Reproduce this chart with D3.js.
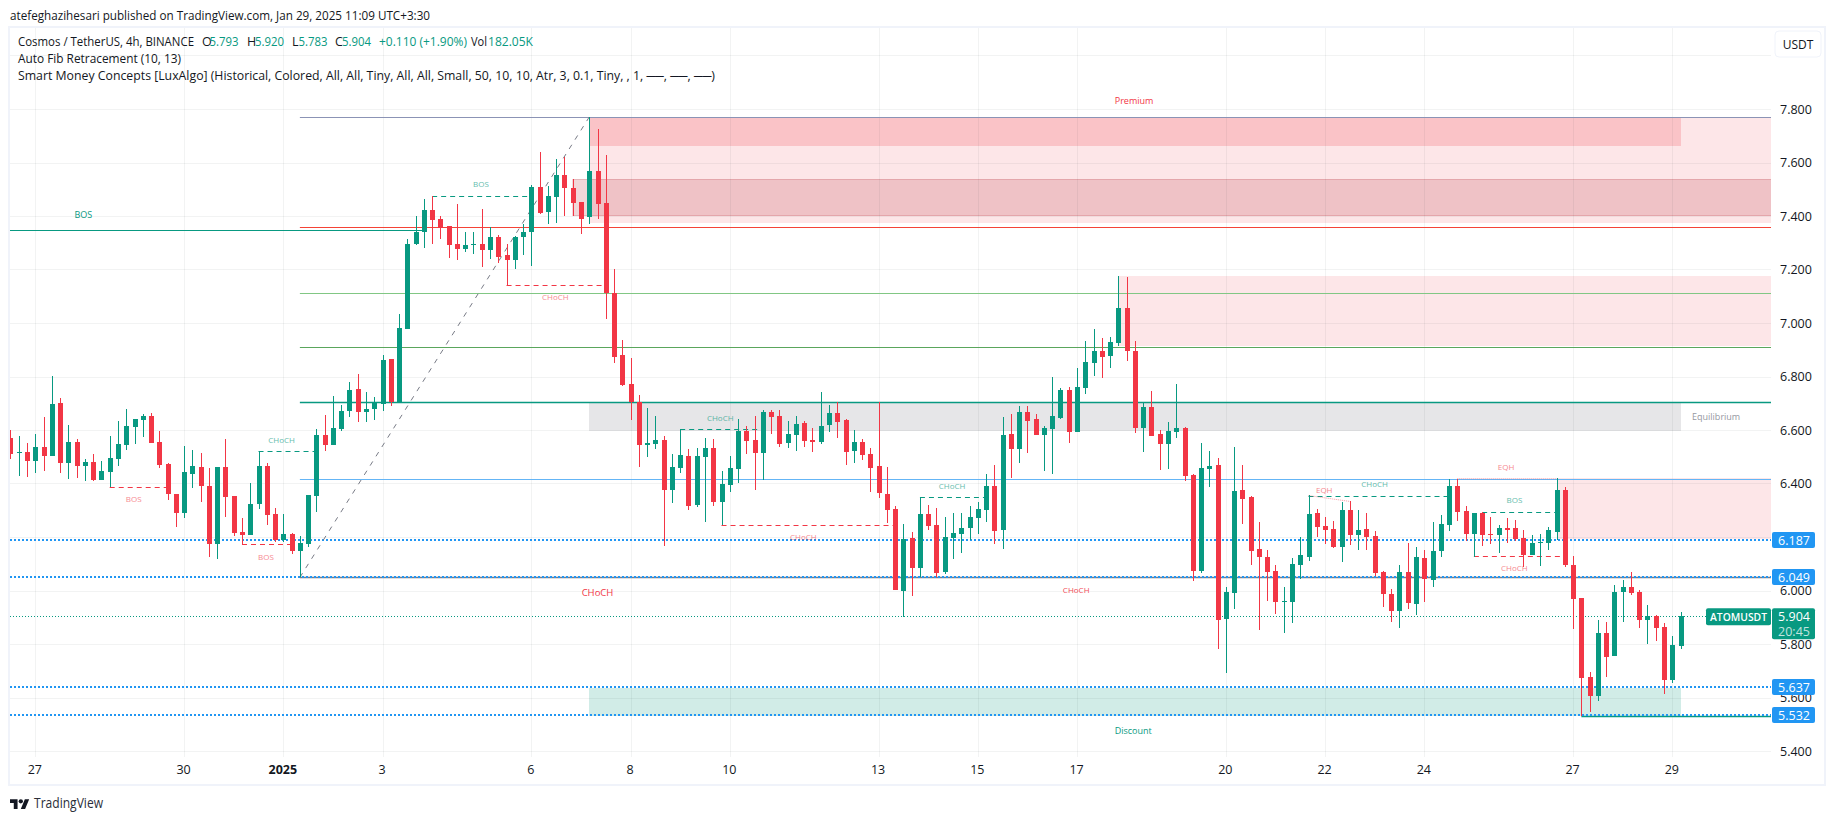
<!DOCTYPE html>
<html><head><meta charset="utf-8">
<style>html,body{margin:0;padding:0;background:#fff;overflow:hidden}svg{display:block}text{font-family:"Open Sans","Noto Sans",sans-serif}</style>
<script src="https://d3js.org/d3.v7.min.js"></script></head><body>
<script>
const opens=[6.570,6.514,6.517,6.484,6.536,6.502,6.701,6.476,6.555,6.465,
6.480,6.413,6.443,6.491,6.544,6.611,6.637,6.652,6.555,6.472,
6.360,6.289,6.435,6.461,6.390,6.173,6.461,6.353,6.218,6.207,
6.323,6.465,6.286,6.188,6.211,6.147,6.173,6.353,6.581,6.544,
6.603,6.671,6.753,6.667,6.678,6.697,6.865,6.705,6.978,7.296,
7.341,7.423,7.389,7.361,7.296,7.277,7.292,7.296,7.273,7.322,
7.255,7.236,7.322,7.341,7.509,7.415,7.471,7.554,7.505,7.453,
7.397,7.569,7.449,7.113,6.881,6.772,6.705,6.544,6.548,6.563,
6.376,6.458,6.503,6.320,6.499,6.533,6.331,6.395,6.454,6.596,
6.563,6.514,6.667,6.653,6.552,6.582,6.626,6.563,6.555,6.619,
6.664,6.638,6.522,6.555,6.510,6.466,6.361,6.305,5.998,6.197,
6.084,6.286,6.245,6.069,6.196,6.211,6.234,6.271,6.301,6.390,
6.226,6.585,6.529,6.667,6.641,6.581,6.604,6.645,6.749,6.593,
6.757,6.851,6.895,6.877,6.925,7.056,6.895,6.608,6.686,6.585,
6.548,6.593,6.608,6.432,6.073,6.454,6.469,5.894,5.991,6.376,
6.350,6.155,6.125,6.073,5.957,5.957,6.095,6.125,6.290,6.241,
6.230,6.163,6.301,6.208,6.230,6.204,6.069,5.987,5.923,6.069,
5.950,6.122,6.039,6.148,6.245,6.391,6.297,6.211,6.290,6.211,
6.208,6.234,6.234,6.196,6.133,6.178,6.178,6.219,6.376,6.096,
5.972,5.677,5.606,5.841,5.755,5.995,6.013,5.995,5.890,5.905,
5.864,5.665,5.793];
const closes=[6.510,6.517,6.484,6.536,6.502,6.697,6.476,6.555,6.465,6.480,
6.413,6.446,6.495,6.547,6.615,6.641,6.652,6.551,6.469,6.360,
6.289,6.443,6.465,6.390,6.173,6.461,6.349,6.215,6.207,6.323,
6.465,6.282,6.188,6.211,6.147,6.177,6.357,6.581,6.544,6.607,
6.671,6.749,6.667,6.678,6.701,6.861,6.704,6.982,7.296,7.341,
7.423,7.385,7.356,7.292,7.277,7.292,7.296,7.273,7.322,7.247,
7.236,7.322,7.341,7.509,7.412,7.475,7.554,7.505,7.449,7.389,
7.569,7.445,7.113,6.873,6.768,6.705,6.544,6.552,6.563,6.376,
6.462,6.507,6.316,6.503,6.533,6.331,6.398,6.458,6.596,6.559,
6.514,6.667,6.649,6.548,6.585,6.623,6.559,6.555,6.615,6.664,
6.630,6.518,6.555,6.507,6.458,6.365,6.301,6.002,6.193,6.084,
6.286,6.241,6.066,6.200,6.215,6.234,6.275,6.305,6.390,6.222,
6.581,6.529,6.667,6.634,6.581,6.608,6.652,6.749,6.593,6.760,
6.854,6.895,6.873,6.929,7.056,6.895,6.608,6.686,6.578,6.548,
6.596,6.608,6.428,6.073,6.458,6.465,5.890,5.994,6.372,6.342,
6.148,6.125,6.069,5.957,5.961,6.099,6.133,6.286,6.237,6.226,
6.163,6.301,6.208,6.226,6.200,6.065,5.987,5.923,6.069,5.953,
6.125,6.043,6.148,6.249,6.391,6.293,6.211,6.290,6.208,6.208,
6.234,6.226,6.193,6.133,6.178,6.181,6.226,6.376,6.096,5.969,
5.673,5.606,5.841,5.752,5.995,6.013,5.991,5.890,5.905,5.860,
5.665,5.796,5.904];
const highs=[6.600,6.577,6.551,6.585,6.648,6.801,6.719,6.618,6.566,6.491,
6.510,6.484,6.577,6.633,6.678,6.641,6.659,6.663,6.596,6.476,
6.360,6.540,6.525,6.514,6.458,6.461,6.566,6.353,6.271,6.401,
6.521,6.476,6.308,6.286,6.215,6.203,6.357,6.603,6.656,6.727,
6.693,6.779,6.809,6.742,6.723,6.880,6.865,7.034,7.314,7.400,
7.464,7.475,7.400,7.363,7.445,7.341,7.341,7.427,7.359,7.329,
7.296,7.326,7.370,7.516,7.640,7.513,7.613,7.621,7.539,7.453,
7.770,7.726,7.628,7.202,6.937,6.869,6.731,6.682,6.653,6.578,
6.510,6.604,6.529,6.533,6.570,6.567,6.447,6.503,6.641,6.615,
6.653,6.675,6.675,6.675,6.634,6.653,6.634,6.608,6.742,6.694,
6.705,6.641,6.600,6.567,6.533,6.705,6.462,6.316,6.249,6.219,
6.349,6.320,6.309,6.275,6.290,6.290,6.316,6.331,6.435,6.469,
6.648,6.660,6.690,6.690,6.660,6.615,6.798,6.757,6.760,6.832,
6.933,6.978,6.944,6.948,7.176,7.172,6.933,6.701,6.746,6.600,
6.630,6.772,6.611,6.435,6.551,6.522,6.495,6.013,6.536,6.469,
6.353,6.256,6.151,6.095,6.013,6.122,6.200,6.357,6.305,6.275,
6.260,6.331,6.335,6.301,6.290,6.222,6.073,6.006,6.095,6.178,
6.163,6.151,6.256,6.282,6.417,6.417,6.316,6.290,6.293,6.275,
6.245,6.271,6.264,6.226,6.208,6.211,6.237,6.421,6.387,6.129,
5.972,5.696,5.890,5.882,6.021,6.040,6.069,6.002,5.946,5.908,
5.879,5.830,5.920];
const lows=[6.491,6.428,6.424,6.439,6.446,6.502,6.439,6.416,6.420,6.409,
6.409,6.413,6.387,6.465,6.525,6.547,6.573,6.551,6.458,6.338,
6.237,6.271,6.383,6.330,6.125,6.117,6.274,6.203,6.173,6.207,
6.304,6.244,6.181,6.181,6.136,6.050,6.162,6.293,6.521,6.544,
6.596,6.648,6.629,6.629,6.637,6.671,6.689,6.705,6.978,7.292,
7.281,7.296,7.314,7.243,7.236,7.266,7.258,7.210,7.240,7.225,
7.142,7.202,7.255,7.213,7.408,7.370,7.374,7.400,7.400,7.333,
7.370,7.389,7.015,6.851,6.765,6.638,6.462,6.499,6.529,6.167,
6.327,6.439,6.301,6.312,6.256,6.316,6.245,6.368,6.402,6.510,
6.376,6.413,6.585,6.537,6.533,6.522,6.537,6.518,6.548,6.593,
6.570,6.469,6.477,6.488,6.368,6.346,6.253,6.002,5.902,5.980,
6.051,6.226,6.051,6.062,6.118,6.140,6.189,6.211,6.256,6.174,
6.155,6.421,6.476,6.514,6.581,6.447,6.435,6.641,6.552,6.593,
6.735,6.802,6.794,6.832,6.914,6.858,6.589,6.518,6.578,6.451,
6.454,6.570,6.409,6.035,6.065,6.387,5.781,5.692,5.931,6.249,
6.095,5.852,5.961,5.912,5.841,5.879,6.043,6.110,6.200,6.174,
6.159,6.107,6.170,6.151,6.151,6.054,5.938,5.882,5.860,5.931,
5.908,5.957,6.013,6.125,6.222,6.260,6.185,6.127,6.166,6.174,
6.140,6.178,6.185,6.087,6.133,6.092,6.151,6.189,6.088,5.856,
5.531,5.546,5.587,5.677,5.755,5.882,5.983,5.860,5.800,5.811,
5.613,5.654,5.783];

const priceTicks=[7.8,7.6,7.4,7.2,7.0,6.8,6.6,6.4,6.2,6.0,5.8,5.6,5.4];
const gridPrices=[8.0].concat(priceTicks);
const timeLabels=["27","30","2025","3","6","8","10","13","15","17","20","22","24","27","29"];
const timeCandles=[3,21,33,45,63,75,87,105,117,129,147,159,171,189,201];
const LAST=213; // last candle slot at the right edge of the pane
// [from candle, to candle, top price, bottom price]
const palePinkZones=[[70,LAST,7.770,7.372],[134,LAST,7.176,6.915],[187,LAST,6.420,6.193]];
const premiumZone=[70,202,7.770,7.660];
const supplyZone=[68,LAST,7.537,7.401];
const equilibriumZone=[70,202,6.703,6.597];
const discountZone=[70,202,5.637,5.532];
// [from candle, to candle, price, colour, width]
const solidLines=[[35,LAST,7.770,"#8b93b5",1],[35,LAST,7.360,"#f44336",1],[-1,50,7.346,"#089981",1],
 [35,LAST,7.111,"#81c784",1],[35,LAST,6.909,"#5aa65c",1],[35,LAST,6.703,"#089981",1.4],
 [35,LAST,6.416,"#64b5f6",1],[35,LAST,6.049,"#787b86",1.4],[190,LAST,5.531,"#089981",1.4]];
const dottedLevels=[6.187,6.049,5.637,5.532];
const lastPrice=5.904;
const fibDiagonal=[[35,6.049],[70,7.770]];
// [from candle, to candle, price, colour]
const G="#089981",R="#f23645";
const structureLines=[[30,37,6.520,G],[12,19,6.387,R],[28,34,6.173,R],[51,63,7.474,G],[60,72,7.141,R],
 [81,91,6.603,G],[86,107,6.244,R],[110,118,6.349,G],[157,174,6.355,G],[178,187,6.293,G],[177,188,6.128,R]];
const eqhLines=[[[157,6.355],[162,6.333]],[[175,6.418],[187,6.418]]];
// [text, candle, price, colour, size, opacity]
const labels=[["BOS",8.8,7.404,G,9,1],["CHoCH",32.8,6.566,G,8,.65],["BOS",14.9,6.343,R,8,.6],["BOS",30.9,6.128,R,8,.6],
 ["BOS",56.9,7.521,G,8,.65],["CHoCH",65.9,7.100,R,8,.6],["CHoCH",85.85,6.647,G,8,.65],["CHoCH",95.9,6.203,R,8,.6],
 ["CHoCH",113.9,6.392,G,8,.65],["CHoCH",165,6.401,G,8,.65],["EQH",158.9,6.378,R,8,.6],["BOS",181.9,6.341,G,8,.65],
 ["CHoCH",181.9,6.087,R,8,.6],["EQH",180.9,6.464,R,8,.6],["CHoCH",71,5.991,R,9.5,1],["CHoCH",128.9,6.002,R,8,.9],
 ["Premium",135.9,7.830,R,9,1],["Equilibrium",206.3,6.650,"#9598a1",9,1],["Discount",135.8,5.475,G,9,1]];
// [text, x position along the legend row, colour key, text length]
const legendRow=[["O",202,"ink",0],["5.793",209.5,"up",29],["H",247,"ink",0],["5.920",255,"up",29],["L",292,"ink",0],["5.783",298.5,"up",29],
 ["C",335,"ink",0],["5.904",342,"up",29],["+0.110 (+1.90%)",379,"up",88],["Vol",471,"ink",16],["182.05K",488,"up",45]];

const W=1835,H=821,pL=10,pR=1771,pT=28,pB=757;
const x=d3.scaleLinear().domain([3,201]).range([35.3,1672.3]);
const y=d3.scaleLinear().domain([7.8,5.4]).range([109,751]);
const sy=p=>Math.round(y(p));
const svg=d3.select("body").append("svg").attr("width",W).attr("height",H);
svg.append("defs").append("clipPath").attr("id","pane").append("rect").attr("x",pL).attr("y",pT).attr("width",pR-pL).attr("height",pB-pT);

// frame
svg.append("rect").attr("x",9).attr("y",27).attr("width",1816).attr("height",758).attr("fill","#fff").attr("stroke","#f0f3fa").attr("stroke-width",2);

const pane=svg.append("g").attr("clip-path","url(#pane)");
// zones
function zone(z,fill,stroke){const [a,b,t,bt]=z;
 pane.append("rect").attr("x",x(a)).attr("y",y(t)).attr("width",x(b)-x(a)).attr("height",y(bt)-y(t)).attr("fill",fill).attr("stroke",stroke||"none").attr("shape-rendering","crispEdges");}
palePinkZones.forEach(z=>zone(z,"rgba(242,54,69,0.125)"));
zone(premiumZone,"rgba(242,54,69,0.2)");
zone(supplyZone,"rgba(178,40,51,0.19)","rgba(178,40,51,0.18)");
zone(equilibriumZone,"rgba(120,123,134,0.19)");
zone(discountZone,"rgba(8,153,129,0.19)");
// grid
const gridG=pane.append("g").attr("shape-rendering","crispEdges").attr("stroke","rgba(42,46,57,0.06)");
gridG.selectAll(".h").data(gridPrices).join("line").attr("x1",pL).attr("x2",pR).attr("y1",d=>sy(d)+.5).attr("y2",d=>sy(d)+.5);
gridG.selectAll(".v").data(timeCandles).join("line").attr("x1",d=>Math.round(x(d))+.5).attr("x2",d=>Math.round(x(d))+.5).attr("y1",pT).attr("y2",pB);
// lines
pane.selectAll(".sl").data(solidLines).join("line").attr("x1",d=>x(d[0])).attr("x2",d=>x(d[1])).attr("y1",d=>sy(d[2])+.5).attr("y2",d=>sy(d[2])+.5).attr("stroke",d=>d[3]).attr("stroke-width",d=>d[4]);
pane.selectAll(".dl").data(dottedLevels).join("line").attr("x1",pL).attr("x2",pR).attr("y1",d=>Math.floor(y(d))).attr("y2",d=>Math.floor(y(d))).attr("stroke","#2196f3").attr("stroke-width",2).attr("stroke-dasharray","2 2");
pane.append("line").attr("x1",pL).attr("x2",pR).attr("y1",sy(lastPrice)+.5).attr("y2",sy(lastPrice)+.5).attr("stroke",G).attr("stroke-dasharray","1 2");
pane.append("path").attr("d",d3.line().x(d=>x(d[0])).y(d=>y(d[1]))(fibDiagonal)).attr("stroke","#787b86").attr("stroke-dasharray","5 6").attr("fill","none");
pane.selectAll(".st").data(structureLines).join("line").attr("x1",d=>x(d[0])).attr("x2",d=>x(d[1])).attr("y1",d=>sy(d[2])+.5).attr("y2",d=>sy(d[2])+.5).attr("stroke",d=>d[3]).attr("stroke-dasharray","5 4");
pane.selectAll(".eq").data(eqhLines).join("path").attr("d",d3.line().x(d=>x(d[0])).y(d=>y(d[1]))).attr("stroke",R).attr("stroke-opacity",.5).attr("stroke-dasharray","1 1").attr("fill","none");
// candles
const idx=d3.range(opens.length);
const cg=pane.append("g").attr("shape-rendering","crispEdges");
const col=i=>closes[i]>=opens[i]?"#089981":"#f23645";
cg.selectAll(".w").data(idx).join("rect").attr("x",i=>Math.round(x(i))).attr("width",1).attr("y",i=>sy(highs[i])).attr("height",i=>Math.max(1,sy(lows[i])-sy(highs[i]))).attr("fill",col);
cg.selectAll(".b").data(idx).join("rect").attr("x",i=>Math.round(x(i))-2).attr("width",5).attr("y",i=>sy(Math.max(opens[i],closes[i]))).attr("height",i=>Math.max(1,Math.abs(sy(opens[i])-sy(closes[i])))).attr("fill",col);
// labels
pane.selectAll(".lb").data(labels).join("text").text(d=>d[0]).attr("x",d=>x(d[1])).attr("y",d=>y(d[2])).attr("text-anchor","middle").attr("dominant-baseline","central").attr("fill",d=>d[3]).attr("font-size",d=>d[4]).attr("opacity",d=>d[5]);

// price axis
const axY=d3.axisRight(y).tickValues(priceTicks).tickSize(0).tickPadding(0).tickFormat(d3.format(".3f"));
const ay=svg.append("g").attr("transform",`translate(1780,0)`).call(axY);
ay.select(".domain").remove();
ay.selectAll("text").attr("font-size",12.5).attr("fill","#131722").attr("style",'font-family:"Open Sans"');
// time axis
const axX=d3.axisBottom(x).tickValues(timeCandles).tickSize(0).tickPadding(0).tickFormat((d,i)=>timeLabels[i]);
const ax=svg.append("g").attr("transform",`translate(-1,765)`).call(axX);
ax.select(".domain").remove();
ax.selectAll("text").attr("font-size",12.5).attr("fill","#131722").attr("font-weight",(d,i)=>timeLabels[i]==="2025"?700:400).attr("style",'font-family:"Open Sans"');

// price badges
const badges=svg.append("g");
dottedLevels.forEach(p=>{
 badges.append("rect").attr("x",1772).attr("y",Math.floor(y(p))-8).attr("width",43).attr("height",16).attr("rx",2).attr("fill","#2196f3");
 badges.append("text").text(d3.format(".3f")(p)).attr("x",1794).attr("y",Math.floor(y(p))).attr("text-anchor","middle").attr("dominant-baseline","central").attr("fill","#fff").attr("font-size",12.5).attr("font-weight",500);
});
badges.append("rect").attr("x",1772).attr("y",y(lastPrice)-8).attr("width",43).attr("height",31).attr("rx",2).attr("fill",G);
badges.append("text").text(d3.format(".3f")(lastPrice)).attr("x",1794).attr("y",y(lastPrice)).attr("text-anchor","middle").attr("dominant-baseline","central").attr("fill","#fff").attr("font-size",12.5).attr("font-weight",500);
badges.append("text").text("20:45").attr("x",1794).attr("y",y(lastPrice)+15).attr("text-anchor","middle").attr("dominant-baseline","central").attr("fill","#fff").attr("fill-opacity",.75).attr("font-size",12.5);
badges.append("rect").attr("x",1706).attr("y",y(lastPrice)-8).attr("width",65).attr("height",17).attr("rx",2).attr("fill",G);
badges.append("text").text("ATOMUSDT").attr("x",1710).attr("y",y(lastPrice)).attr("dominant-baseline","central").attr("fill","#fff").attr("font-size",11.5).attr("font-weight",600).attr("textLength",57).attr("lengthAdjust","spacingAndGlyphs");

// USDT button
svg.append("rect").attr("x",1775).attr("y",31).attr("width",46).attr("height",26).attr("rx",4).attr("fill","#fff").attr("stroke","#f0f3fa");
svg.append("text").text("USDT").attr("x",1798).attr("y",44).attr("text-anchor","middle").attr("dominant-baseline","central").attr("font-size",12).attr("fill","#131722");

// header and legend
const ink="#131722";
function t(s,xp,yp,fill,size,len){const e=svg.append("text").text(s).attr("x",xp).attr("y",yp).attr("fill",fill||ink).attr("font-size",size||12.5);if(len)e.attr("textLength",len).attr("lengthAdjust","spacingAndGlyphs");return e;}
t("atefeghazihesari published on TradingView.com, Jan 29, 2025 11:09 UTC+3:30",10,19.5,ink,12.5,420);
t("Cosmos / TetherUS, 4h, BINANCE",18,45.5,ink,12.5,176);
legendRow.forEach(d=>t(d[0],d[1],45.5,d[2]==="up"?G:ink,12.5,d[3]));
t("Auto Fib Retracement (10, 13)",18,63,ink,12.5,163);
t("Smart Money Concepts [LuxAlgo] (Historical, Colored, All, All, Tiny, All, All, Small, 50, 10, 10, Atr, 3, 0.1, Tiny, , 1, ──, ──, ──)",18,80,ink,12.5,697);

// logo
const lg=svg.append("g").attr("transform","translate(10,797) scale(0.54)").attr("fill",ink);
lg.append("path").attr("d","M14 22H7V11H0V4h14v18zM28 22h-8l7.5-18h8L28 22z");
lg.append("circle").attr("cx",20).attr("cy",8).attr("r",4);
t("TradingView",34,808,"#2a2e39",14,69);
</script></body></html>
